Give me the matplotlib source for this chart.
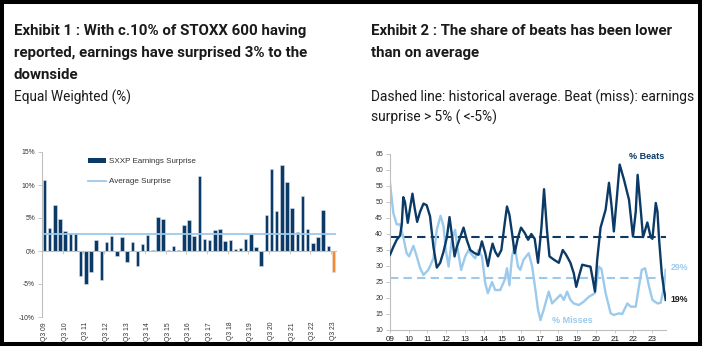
import matplotlib
matplotlib.use('Agg')
import matplotlib.pyplot as plt
from matplotlib.patches import Rectangle, Patch
from matplotlib.lines import Line2D
import matplotlib.transforms as mtransforms

# Exhibit 1 data: SXXP earnings surprise by quarter (%), Q3 09 .. Q3 23
surprise = [10.8, 3.5, 7.0, 4.9, 3.0, 2.8, 2.8, -3.8, -5.0, -3.2, 1.6, -4.4,
            1.3, 2.3, -0.8, 2.1, -1.6, 1.3, -2.3, 1.1, 2.5, 0.2, 5.2, 4.9,
            0.2, 0.8, 0.2, 3.9, 4.7, 2.3, 11.3, 1.8, 1.7, 3.2, 3.4, 1.5,
            1.7, 0.3, 0.4, 1.8, 2.6, 0.6, -2.3, 5.4, 12.4, 6.1, 13.1, 10.5,
            6.5, 2.9, 8.3, 3.3, 1.2, 2.1, 6.2, 0.8, -3.2]
avg_surprise = 2.6
q_labels = ['Q3 09', 'Q3 10', 'Q3 11', 'Q3 12', 'Q3 13', 'Q3 14', 'Q3 15',
            'Q3 16', 'Q3 17', 'Q3 18', 'Q3 19', 'Q3 20', 'Q3 21', 'Q3 22', 'Q3 23']

# Exhibit 2 data: % beats / % misses
beats_x = [2009.00, 2009.18, 2009.36, 2009.54, 2009.63, 2009.71, 2009.80, 2009.95, 2010.07, 2010.20,
           2010.32, 2010.45, 2010.61, 2010.79, 2010.96, 2011.14, 2011.32, 2011.50, 2011.68, 2011.86,
           2012.04, 2012.18, 2012.30, 2012.45, 2012.57, 2012.75, 2012.93, 2013.11, 2013.29, 2013.52,
           2013.73, 2013.91, 2014.09, 2014.23, 2014.36, 2014.48, 2014.62, 2014.77, 2014.95, 2015.13,
           2015.25, 2015.38, 2015.52, 2015.66, 2015.84, 2016.00, 2016.20, 2016.38, 2016.55, 2016.73,
           2016.91, 2017.09, 2017.23, 2017.39, 2017.52, 2017.75, 2018.02, 2018.23, 2018.41, 2018.64,
           2018.82, 2018.95, 2019.09, 2019.27, 2019.54, 2019.71, 2019.84, 2019.95, 2020.07, 2020.25,
           2020.52, 2020.70, 2020.84, 2020.96, 2021.11, 2021.27, 2021.50, 2021.77, 2021.98, 2022.13,
           2022.23, 2022.39, 2022.52, 2022.75, 2022.93, 2023.02, 2023.20, 2023.29, 2023.38, 2023.52,
           2023.64, 2023.73]
beats = [33.5, 36.0, 38.2, 39.5, 43.0, 51.5, 50.0, 43.5, 48.0, 52.6,
         48.0, 43.8, 47.0, 49.5, 49.0, 45.5, 36.0, 29.5, 31.0, 34.5,
         39.0, 45.3, 40.0, 33.0, 36.0, 39.0, 42.0, 38.0, 35.0, 34.0,
         33.5, 37.7, 34.0, 30.0, 34.0, 37.0, 34.5, 33.0, 35.0, 43.4,
         48.6, 46.0, 40.3, 34.0, 39.0, 42.0, 40.3, 38.2, 40.0, 38.5,
         31.0, 42.0, 54.0, 41.0, 33.0, 32.0, 31.0, 35.0, 33.5, 31.0,
         27.7, 23.5, 26.7, 30.4, 30.0, 29.8, 25.7, 22.0, 32.0, 42.0,
         47.6, 56.0, 48.6, 40.8, 50.7, 61.7, 57.0, 50.7, 39.2, 47.0,
         58.5, 48.0, 39.0, 43.6, 39.0, 38.5, 49.7, 47.0, 38.0, 27.7,
         22.5, 19.4]
misses_x = [2009.00, 2009.18, 2009.36, 2009.54, 2009.71, 2009.89, 2010.02, 2010.25, 2010.43, 2010.61,
            2010.79, 2011.05, 2011.32, 2011.50, 2011.70, 2011.86, 2011.98, 2012.13, 2012.30, 2012.48,
            2012.57, 2012.80, 2013.02, 2013.20, 2013.38, 2013.55, 2013.73, 2013.91, 2014.09, 2014.23,
            2014.45, 2014.62, 2014.89, 2015.13, 2015.25, 2015.38, 2015.52, 2015.66, 2015.84, 2015.96,
            2016.14, 2016.41, 2016.59, 2016.77, 2016.91, 2017.04, 2017.21, 2017.48, 2017.66, 2017.84,
            2018.11, 2018.29, 2018.46, 2018.64, 2018.82, 2019.09, 2019.36, 2019.63, 2019.95, 2020.16,
            2020.30, 2020.52, 2020.79, 2020.96, 2021.23, 2021.41, 2021.68, 2021.86, 2022.13, 2022.30,
            2022.45, 2022.63, 2022.84, 2023.02, 2023.29, 2023.46, 2023.64, 2023.73]
misses = [55.9, 46.5, 43.0, 43.0, 39.0, 34.0, 33.0, 36.3, 33.0, 29.3,
          27.2, 28.8, 32.4, 41.3, 45.7, 42.4, 35.0, 29.8, 38.2, 41.3,
          37.0, 28.8, 33.0, 35.0, 33.5, 32.4, 35.0, 33.0, 24.6, 21.5,
          25.0, 22.5, 22.5, 25.7, 29.3, 24.0, 33.0, 36.3, 29.8, 28.8,
          32.0, 34.0, 30.0, 22.5, 16.3, 13.1, 16.3, 22.0, 18.3, 19.4,
          21.0, 19.4, 22.0, 19.4, 18.3, 17.8, 18.9, 20.4, 21.5, 29.8,
          29.0, 21.5, 15.2, 14.7, 15.2, 15.0, 18.3, 17.3, 17.3, 23.6,
          28.8, 29.3, 23.6, 19.4, 18.3, 18.5, 23.6, 28.8]
avg_beats = 39.2
avg_misses = 26.2
year_ticks = list(range(2009, 2024))

navy = '#0b3a66'
light = '#9ccaec'
orange = '#f7882f'
grey_axis = '#bfbfbf'
tick_font = ['Liberation Sans', 'DejaVu Sans']
title_font = ['Roboto', 'DejaVu Sans']

W, H = 712, 350
fig = plt.figure(figsize=(W / 100, H / 100), dpi=100)

def fx(px):
    return px / W

def fy(py):
    return 1 - py / H

# outer frame
fig.patches.append(Rectangle((fx(2), fy(344)), fx(700) - fx(2), fy(2) - fy(344),
                             transform=fig.transFigure, fill=False, ec='black', lw=2.9))

# titles
fig.text(fx(14), fy(24), 'Exhibit 1 : With c.10% of STOXX 600 having\nreported, earnings have surprised 3% to the\ndownside',
         family=title_font, weight='bold', fontsize=10.8, va='top', ha='left', linespacing=1.72, color='#1a1a1a')
fig.text(fx(14), fy(90), 'Equal Weighted (%)', family=title_font, fontsize=9.8, va='top', ha='left', color='#1a1a1a')
fig.text(fx(371), fy(24), 'Exhibit 2 : The share of beats has been lower\nthan on average',
         family=title_font, weight='bold', fontsize=10.8, va='top', ha='left', linespacing=1.72, color='#1a1a1a')
fig.text(fx(371), fy(90), 'Dashed line: historical average. Beat (miss): earnings\nsurprise > 5% ( <-5%)',
         family=title_font, fontsize=9.9, va='top', ha='left', linespacing=1.4, color='#1a1a1a')

# ---------------- Exhibit 1 ----------------
ax1 = fig.add_axes([fx(42), fy(317), fx(336) - fx(42), fy(152) - fy(317)])
idx = list(range(len(surprise)))
cols = [navy] * (len(surprise) - 1) + [orange]
ax1.bar(idx, surprise, width=0.68, color=cols, edgecolor='#d9e2ec', linewidth=0.4, zorder=2)
ax1.axhline(avg_surprise, color=light, lw=1.3, zorder=3)
ax1.set_xlim(-0.5, len(surprise) - 0.5)
ax1.set_ylim(-10, 15)
ax1.set_yticks([-10, -5, 0, 5, 10, 15])
ax1.set_yticklabels(['-10%', '-5%', '0%', '5%', '10%', '15%'], family=tick_font, fontsize=4.9, color='#333333')
for s in ['top', 'right']:
    ax1.spines[s].set_visible(False)
ax1.spines['left'].set_color(grey_axis)
ax1.spines['left'].set_linewidth(0.8)
ax1.spines['bottom'].set_position(('data', 0))
ax1.spines['bottom'].set_color(grey_axis)
ax1.spines['bottom'].set_linewidth(0.8)
ax1.tick_params(axis='y', length=3, width=0.6, color=grey_axis, pad=2)
ax1.set_xticks([i * 4 - 0.5 for i in range(1, len(q_labels))])
ax1.tick_params(axis='x', length=2.5, width=0.6, color=grey_axis, labelbottom=False)
trans = mtransforms.blended_transform_factory(ax1.transData, ax1.transAxes)
for i, lab in enumerate(q_labels):
    ax1.text(i * 4, -0.03, lab, transform=trans, rotation=90, ha='center', va='top',
             family=tick_font, fontsize=4.9, color='#333333')
handles = [Patch(facecolor=navy, edgecolor='none'), Line2D([0], [0], color=light, lw=1.3)]
ax1.legend(handles, ['SXXP Earnings Surprise', 'Average Surprise'], loc='upper left',
           bbox_to_anchor=(0.158, 0.965), frameon=False, prop={'family': tick_font, 'size': 5.8},
           handlelength=2.2, handleheight=0.55, handletextpad=0.3, labelspacing=1.6,
           borderpad=0, borderaxespad=0, labelcolor='#333333')

# ---------------- Exhibit 2 ----------------
ax2 = fig.add_axes([fx(390), fy(330), fx(665.7) - fx(390), fy(154) - fy(330)])
ax2.plot(misses_x, misses, color=light, lw=1.7, solid_joinstyle='round', zorder=2)
ax2.plot(beats_x, beats, color=navy, lw=1.7, solid_joinstyle='round', zorder=3)
ax2.axhline(avg_beats, color=navy, lw=1.5, ls=(0, (4, 2.5)), zorder=1)
ax2.axhline(avg_misses, color=light, lw=1.5, ls=(0, (4, 2.5)), zorder=1)
ax2.set_xlim(2009, beats_x[-1])
ax2.set_ylim(10, 65)
ax2.set_yticks(list(range(10, 66, 5)))
ax2.set_yticklabels([str(v) for v in range(10, 66, 5)], family=tick_font, fontsize=5, color='#333333')
ax2.set_xticks(year_ticks)
ax2.set_xticklabels(['%02d' % (y % 100) for y in year_ticks], family=tick_font, fontsize=5.8, color='#1a1a1a')
for s in ['top', 'right']:
    ax2.spines[s].set_visible(False)
for s in ['left', 'bottom']:
    ax2.spines[s].set_color(grey_axis)
    ax2.spines[s].set_linewidth(0.8)
ax2.tick_params(axis='y', length=3, width=0.6, color=grey_axis, pad=2)
ax2.tick_params(axis='x', length=2, width=0.6, color=grey_axis, pad=2)
ax2.text(0.995, 0.985, '% Beats', transform=ax2.transAxes, ha='right', va='center',
         family=tick_font, weight='bold', fontsize=6.5, color=navy)
ax2.text(0.66, 0.055, '% Misses', transform=ax2.transAxes, ha='center', va='center',
         family=tick_font, weight='bold', fontsize=6.5, color=light)
ax2.text(beats_x[-1] + 0.28, misses[-1] + 0.8, '29%', ha='left', va='center',
         family=tick_font, weight='bold', fontsize=6.3, color=light)
ax2.text(beats_x[-1] + 0.28, beats[-1] + 0.2, '19%', ha='left', va='center',
         family=tick_font, weight='bold', fontsize=6.3, color='#1a1a1a')

fig.savefig('out.png', dpi=100)
